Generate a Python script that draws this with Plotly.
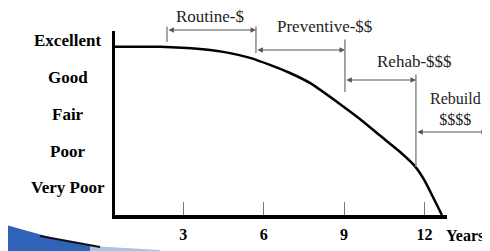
import plotly.graph_objects as go

# ---- data ----
years = [0.45, 2.13, 3.62, 4.74, 5.49, 6.23, 6.98, 7.72, 8.84, 9.59, 10.34, 11.08, 11.64, 12.01, 12.39, 12.65]
condition = [4.83, 4.83, 4.77, 4.66, 4.53, 4.34, 4.12, 3.85, 3.28, 2.87, 2.42, 1.98, 1.59, 1.19, 0.64, 0.26]

condition_levels = [1, 2, 3, 4, 5]
condition_labels = ["Very Poor", "Poor", "Fair", "Good", "Excellent"]

x_ticks = [3, 6, 9, 12]
x_tick_labels = ["3", "6", "9", "12"]

phase_names = ["Routine-$", "Preventive-$$", "Rehab-$$$", "Rebuild<br>$$$$"]
phase_bounds = [2.39, 5.71, 9.03, 11.68, 14.33]

# ---- layout helpers ----
OFF = 8                      # page body margin of the rendered html
W, H = 490 - OFF, 251 - OFF
L, T = 115 - OFF, 31 - OFF   # plot area left/top in page pixels 115, 31
PW, PH = 332, 184
R, B = W - L - PW, H - T - PH
XR = [0.45, 12.84]
YR = [0.261, 5.261]


def pxx(x):  # page pixel -> paper
    return (x - OFF - L) / PW


def pxy(y):
    return (T + PH - (y - OFF)) / PH


def dx(yr):  # data -> paper
    return (yr - XR[0]) / (XR[1] - XR[0])


def dy(lvl):
    return (lvl - YR[0]) / (YR[1] - YR[0])


def ppx(d_yr):  # data span -> pixels
    return d_yr * PW / (XR[1] - XR[0])


def ppy(d_lvl):
    return d_lvl * PH / (YR[1] - YR[0])


fig = go.Figure()
fig.add_trace(go.Scatter(
    x=years, y=condition, mode="lines",
    line=dict(color="black", width=2.5, shape="spline", smoothing=0.5),
    cliponaxis=False, showlegend=False, hoverinfo="skip"))

serif = "Liberation Serif"
ann = []
# y labels
for lvl, lab in zip(condition_levels, condition_labels):
    ann.append(dict(x=pxx(68), xref="paper", y=dy(lvl), yref="paper", text=lab, showarrow=False,
                    xanchor="center", yanchor="middle",
                    font=dict(family=serif, size=17, color="black", weight="bold")))
# Years label
ann.append(dict(x=pxx(465), xref="paper", y=pxy(235), yref="paper", text="Years", showarrow=False,
                xanchor="center", yanchor="middle",
                font=dict(family=serif, size=16, color="black", weight="bold")))

# phase boundary lines
line_spans = [(5.424, 4.962), (5.424, 4.663), (5.071, 3.603), (4.12, 1.565)]
for xb, (yt, yb) in zip(phase_bounds[:4], line_spans):
    ann.append(dict(x=dx(xb), y=dy(yb), xref="paper", yref="paper",
                    ax=0, ay=-ppy(yt - yb), axref="pixel", ayref="pixel",
                    text="", showarrow=True, arrowhead=0, arrowwidth=1.5, arrowcolor="#8a8a8a",
                    standoff=0, startstandoff=0))
# phase arrows
arrow_y = [5.288, 4.745, 3.929, 2.516]
for i, ya in enumerate(arrow_y):
    ann.append(dict(x=dx(phase_bounds[i + 1]), y=dy(ya), xref="paper", yref="paper",
                    ax=-ppx(phase_bounds[i + 1] - phase_bounds[i]), ay=0, axref="pixel", ayref="pixel",
                    text="", showarrow=True, arrowhead=2, arrowside="end+start",
                    arrowsize=0.9, arrowwidth=1.2, arrowcolor="#555555",
                    standoff=0, startstandoff=0))
# phase texts
text_x = [4.0, 8.25, 11.64, 13.17]
text_y = [5.66, 5.37, 4.42, 3.14]
text_size = [17, 17, 17, 16]
for name, tx, ty, ts in zip(phase_names, text_x, text_y, text_size):
    ann.append(dict(x=dx(tx), y=dy(ty), xref="paper", yref="paper", text=name, showarrow=False,
                    xanchor="center", yanchor="middle", borderpad=0,
                    font=dict(family=serif, size=ts, color="#222222")))

# decorative swoosh (bottom-left)
shapes = [
    dict(type="path", xref="paper", yref="paper",
         path=f"M {pxx(6)},{pxy(225)} L {pxx(60)},{pxy(240)} L {pxx(100)},{pxy(247)} "
              f"L {pxx(160)},{pxy(252)} L {pxx(6)},{pxy(252)} Z",
         fillcolor="#2f63b8", line=dict(width=0), layer="above"),
    dict(type="path", xref="paper", yref="paper",
         path=f"M {pxx(90)},{pxy(246)} L {pxx(160)},{pxy(250)} L {pxx(160)},{pxy(252)} L {pxx(90)},{pxy(252)} Z",
         fillcolor="#a9c2e8", line=dict(width=0), layer="above"),
    dict(type="path", xref="paper", yref="paper",
         path=f"M {pxx(40)},{pxy(236)} L {pxx(100)},{pxy(247)}",
         line=dict(width=2, color="#111111"), layer="above"),
]

fig.update_layout(
    width=W, height=H, margin=dict(l=L, r=R, t=T, b=B, autoexpand=False),
    paper_bgcolor="white", plot_bgcolor="white",
    xaxis=dict(range=XR, showgrid=False, zeroline=False, showline=True,
               linecolor="black", linewidth=3.5, ticks="inside", ticklen=13, tickwidth=1,
               tickcolor="#777777", tickvals=x_ticks, ticktext=x_tick_labels,
               ticklabelstandoff=2,
               tickfont=dict(family=serif, size=16, color="black", weight="bold")),
    yaxis=dict(range=YR, showgrid=False, zeroline=False, showline=True,
               linecolor="black", linewidth=3, showticklabels=False, ticks=""),
    annotations=ann, shapes=shapes,
)

fig.write_html("out.html")
